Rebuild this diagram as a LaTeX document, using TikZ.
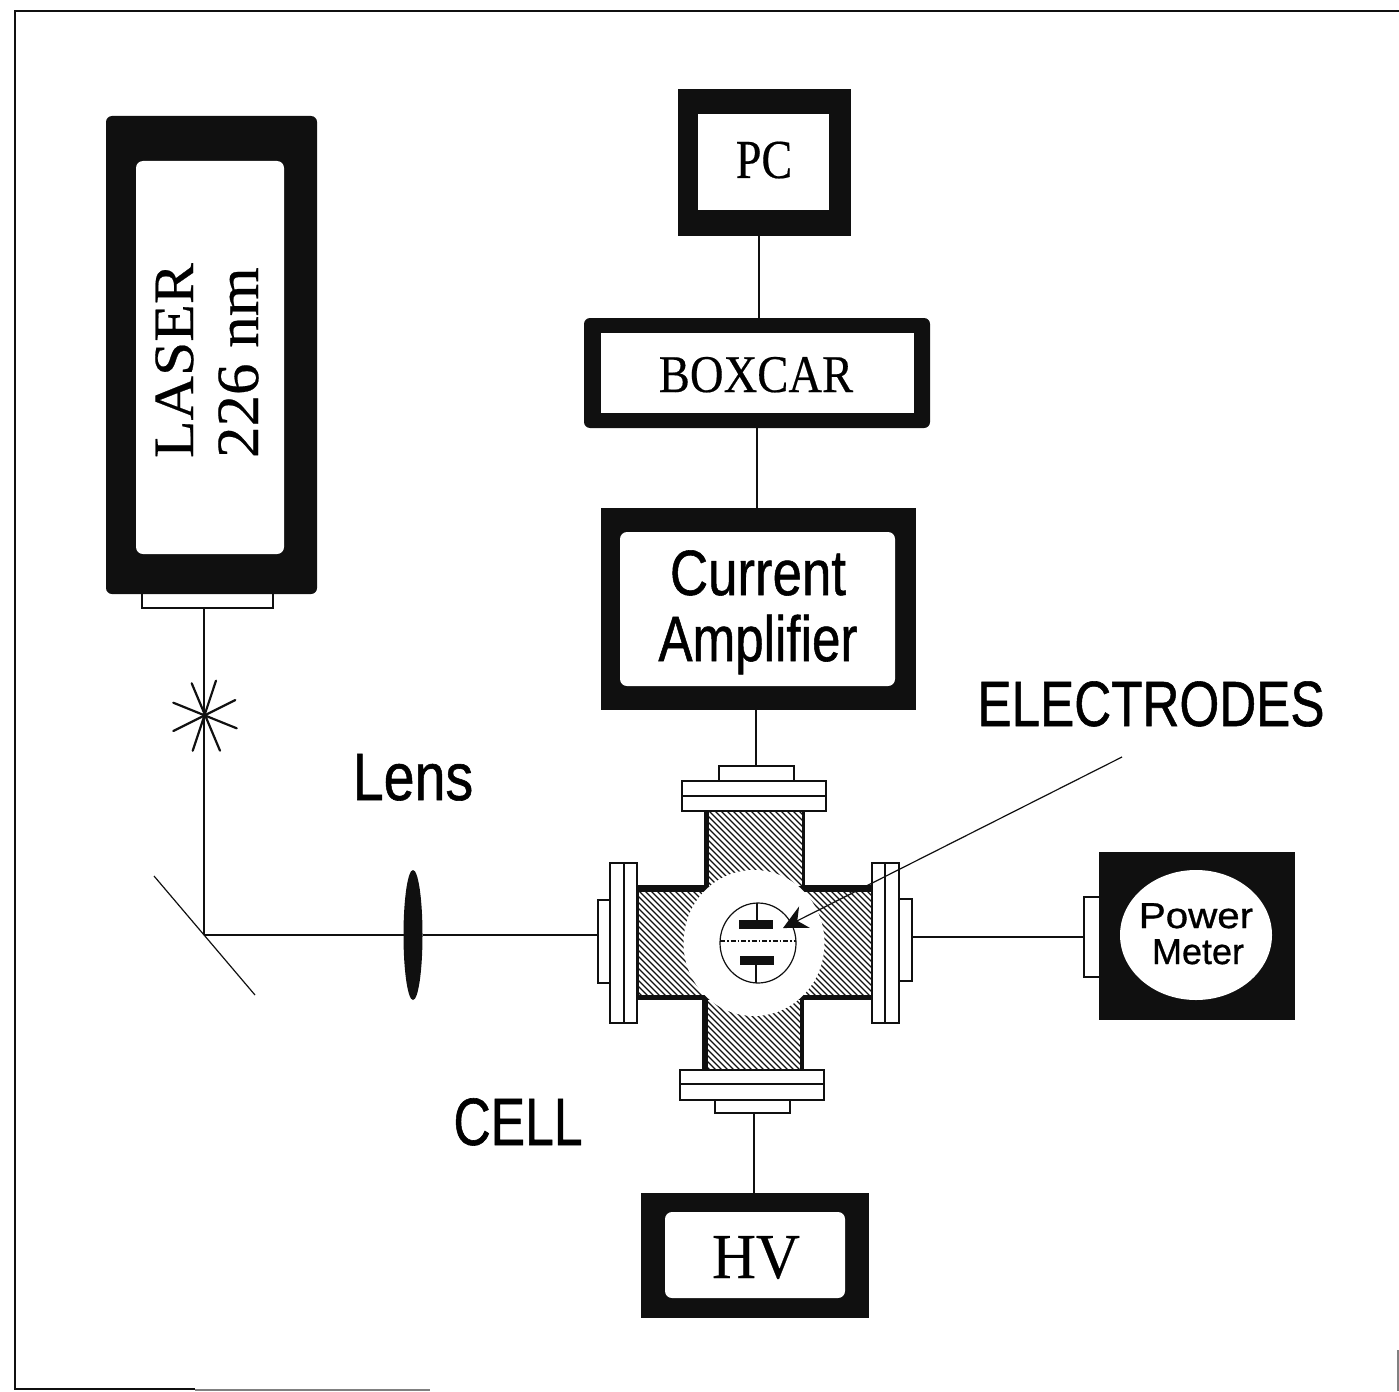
\documentclass[tikz,border=0pt]{standalone}
\usepackage{fontspec}
\usepackage{graphicx}
\usetikzlibrary{arrows.meta,shapes.geometric}
\setmainfont[FakeBold=0.35]{Liberation Serif}
\newfontfamily\hv[FakeBold=0.9]{Liberation Sans}
\newcommand\sz[1]{\fontsize{#1}{#1}\selectfont}
\definecolor{ink}{HTML}{101010}
\tikzset{
  rct/.style={rectangle,inner sep=0pt,outer sep=0pt},
  dark/.style={rct,fill=ink},
  roundd/.style={rct,fill=ink,rounded corners=6pt},
  hole/.style={rct,fill=white},
  holer/.style={rct,fill=white,rounded corners=7pt},
  flange/.style={rct,draw=ink,fill=white,line width=1.6pt},
  nozzle/.style={rct,draw=ink,fill=white,line width=1.3pt},
  hatchline/.style={draw=ink,line width=1.4pt},
  wire/.style={draw=ink,line width=1.2pt},
  starline/.style={draw=ink,line width=2.2pt,line cap=round},
  lbl/.style={inner sep=0pt,outer sep=0pt,text=black},
  oval/.style={ellipse,inner sep=0pt,outer sep=0pt},
}
\newcommand\Rct[7][]{\node[rct,#1,minimum width={#5-#3},minimum height={#6-#4}] (#2) at ({(#3+#5)/2},{(#4+#6)/2}) {#7};}
\newcommand\Ovl[6][]{\node[oval,#1,minimum width={2*#5},minimum height={2*#6}] (#2) at (#3,#4) {};}
\newcommand\Hatched[5]{%
  \Rct[hole]{#1}{#2}{#3}{#4}{#5}{}
  \begin{scope}
    \clip (#1.north west) rectangle (#1.south east);
    \foreach \c in {-372,-366,...,72} {\draw[hatchline] (\c+780,780) -- (\c+1090,1090);}
  \end{scope}}
\begin{document}
\begin{tikzpicture}[x=1pt,y=-1pt]
\useasboundingbox (0,0) rectangle (1399,1391);
% frame
\draw[ink,line width=2.6pt] (1399,11) -- (15,11) -- (15,1389) -- (195,1389);
\draw[gray,line width=1.2pt] (195,1390) -- (430,1390);
\draw[gray,line width=1.2pt] (1398,1350) -- (1398,1391);

% laser
\Rct[nozzle]{lasernoz}{142}{590}{273}{608}{}
\Rct[roundd]{laser}{106}{116}{317}{594}{}
\Rct[holer]{laserin}{136}{161}{284}{554}{}
\node[lbl,rotate=90,anchor=base west] (lasertxt) at (193,458) {\sz{57}\scalebox{1.08}[1]{LASER}};
\node[lbl,rotate=90,anchor=base west] (lasernm) at (258,458) {\sz{60}\scalebox{1.05}[1]{226 nm}};

% PC
\Rct[dark]{pc}{678}{89}{851}{236}{}
\Rct[hole]{pcin}{698}{114}{829}{210}{}
\node[lbl,anchor=base] (pctxt) at (764,178) {\sz{55}\scalebox{.84}[1]{PC}};

% BOXCAR
\Rct[roundd]{boxcar}{584}{318}{930}{428}{}
\Rct[hole]{boxcarin}{601}{333}{914}{413}{}
\node[lbl,anchor=base] (boxcartxt) at (756,392) {\sz{53}\scalebox{.88}[1]{BOXCAR}};

% current amplifier
\Rct[dark]{amp}{601}{508}{916}{710}{}
\Rct[holer]{ampin}{620}{532}{895}{686}{}
\node[lbl,anchor=base,font=\hv] (curtxt) at (758,595) {\sz{64}\scalebox{.825}[1]{Current}};
\node[lbl,anchor=base,font=\hv] (amptxt) at (758,661) {\sz{64}\scalebox{.8}[1]{Amplifier}};

% HV
\Rct[dark]{hvb}{641}{1193}{869}{1318}{}
\Rct[holer]{hvin}{665}{1212}{845}{1298}{}
\node[lbl,anchor=base] (hvtxt) at (756,1278) {\sz{64}\scalebox{.95}[1]{HV}};

% power meter
\Rct[nozzle]{pmnoz}{1084}{897}{1100}{977}{}
\Rct[dark]{pm}{1099}{852}{1295}{1020}{}
\node[oval,fill=white,minimum width=152pt,minimum height=130pt] (pmin) at (1196,935) {};
\node[lbl,anchor=base,font=\hv] (powertxt) at (1196,928) {\sz{36}\scalebox{1.12}[1]{Power}};
\node[lbl,anchor=base,font=\hv] (metertxt) at (1198,964) {\sz{36}Meter};

% cell arms
\Rct[dark]{armh}{637}{885}{872}{1000}{}
\Hatched{armhin}{639}{892}{871}{995}
\Rct[dark]{armt}{704}{811}{805}{886}{}
\Hatched{armtin}{709}{811}{802}{886}
\Rct[dark]{armb}{702}{1000}{804}{1070}{}
\Hatched{armbin}{708}{1000}{800}{1069}

% flanges and nozzles
\Rct[nozzle]{topnoz}{719}{766}{794}{781}{}
\Rct[flange]{topfl}{682}{781}{826}{796}{}
\Rct[flange]{topfl2}{682}{796}{826}{811}{}
\Rct[nozzle]{botnoz}{715}{1100}{790}{1113}{}
\Rct[flange]{botfl}{680}{1070}{824}{1084}{}
\Rct[flange]{botfl2}{680}{1084}{824}{1100}{}
\Rct[nozzle]{leftnoz}{598}{900}{611}{983}{}
\Rct[flange]{leftfl}{610}{863}{624}{1023}{}
\Rct[flange]{leftfl2}{624}{863}{637}{1023}{}
\Rct[nozzle]{rightnoz}{899}{899}{912}{981}{}
\Rct[flange]{rightfl}{872}{863}{885}{1023}{}
\Rct[flange]{rightfl2}{885}{863}{899}{1023}{}

% window
\Ovl[fill=white]{window}{754}{943}{70.5}{73}
\Ovl[draw=ink,fill=white,line width=1.2pt]{chamber}{758}{943}{38}{40}
\Rct[dark]{elup}{739}{920}{773}{929}{}
\Rct[dark]{eldn}{740}{956}{774}{965}{}
\coordinate (stemt) at (757,903);
\coordinate (stemb) at (756,983);
\coordinate (axl) at (720,941);
\coordinate (axr) at (796,941);
\draw[wire] (stemt) -- (stemt|-elup.north);
\draw[wire] (stemb) -- (stemb|-eldn.south);
\draw[ink,line width=1.2pt,dash pattern=on 5pt off 2pt on 1.5pt off 2pt] (axl) -- (axr);

% lens & mirror
\Ovl[fill=ink]{lens}{413}{935}{9.5}{65}
\coordinate (mirt) at (154,876);
\coordinate (mirb) at (255,995);
\coordinate (mirhit) at (204,935);
\draw[wire] (mirt) -- (mirb);

% star
\coordinate (s1a) at (191.7,683.3); \coordinate (s1b) at (220,750.7);
\coordinate (s2a) at (216,680.7);   \coordinate (s2b) at (192.7,750.7);
\coordinate (s3a) at (173.3,702.7); \coordinate (s3b) at (236.7,728.3);
\coordinate (s4a) at (235.3,700);   \coordinate (s4b) at (173.3,731);
\draw[starline] (s1a) -- (s1b);
\draw[starline] (s2a) -- (s2b);
\draw[starline] (s3a) -- (s3b);
\draw[starline] (s4a) -- (s4b);

% connectors
\coordinate (rightrun) at (912,937);
\draw[wire] (lasernoz.south -| 204,0) -- (mirhit);
\draw[wire] (mirhit) -- (lens.west);
\draw[wire] (lens.east) -- (leftnoz.west |- lens.east);
\draw[wire] (rightrun) -- (pmnoz.west |- rightrun);
\draw[wire] (pc.south -| 759,0) -- (boxcar.north -| 759,0);
\draw[wire] (boxcar.south -| 757,0) -- (amp.north -| 757,0);
\draw[wire] (amp.south -| 756,0) -- (topnoz.north -| 756,0);
\draw[wire] (botnoz.south -| 754,0) -- (hvb.north -| 754,0);

% labels
\node[lbl,anchor=base,font=\hv] (lenstxt) at (413,800) {\sz{67}\scalebox{.83}[1]{Lens}};
\node[lbl,anchor=base,font=\hv] (celltxt) at (518,1145) {\sz{67}\scalebox{.77}[1]{CELL}};
\node[lbl,anchor=base,font=\hv] (elecs) at (1151,726) {\sz{64}\scalebox{.8}[1]{ELECTRODES}};
\coordinate (elecptr) at (1122,757);
\coordinate (electip) at (783,928);
\draw[wire,-{Stealth[length=24pt,width=24pt,inset=8pt]}] (elecptr) -- (electip);
\end{tikzpicture}
\end{document}
